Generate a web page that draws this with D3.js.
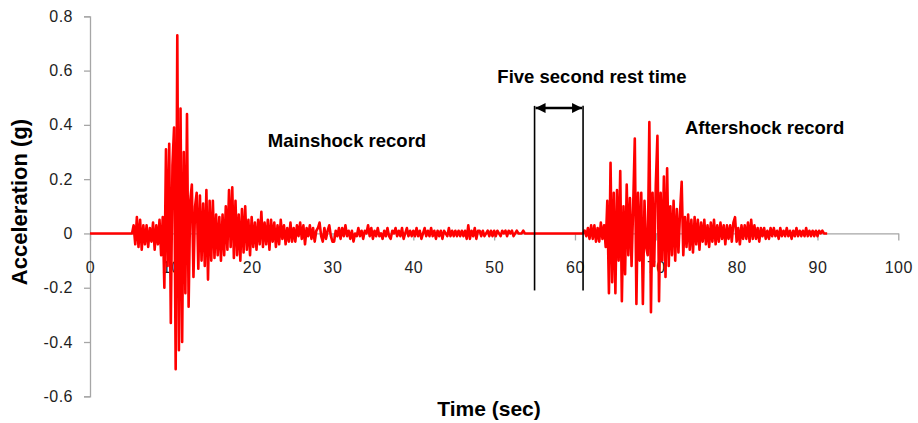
<!DOCTYPE html>
<html>
<head>
<meta charset="utf-8">
<script src="https://cdn.jsdelivr.net/npm/d3@7"></script>
<style>
  html, body { margin: 0; padding: 0; background: #fff; }
  svg { display: block; }
</style>
</head>
<body>
<svg id="chart" width="918" height="423"></svg>
<script>
// ---------------- DATA ----------------
const xTicks = [0, 10, 20, 30, 40, 50, 60, 70, 80, 90, 100];
const yTicks = [-0.6, -0.4, -0.2, 0, 0.2, 0.4, 0.6, 0.8];
const yTickLabels = ["-0.6", "-0.4", "-0.2", "0", "0.2", "0.4", "0.6", "0.8"];

const sampleStep = 0.2;           // s
const mainshockStart = 5.2;       // s
const mainshock = [
  0, .03, -.04, .06, -.05,
  .05, -.06, .03, -.04, .03,
  -.05, .02, -.03, .04, -.06,
  .03, -.04, .05, -.08, .06,
  -.20, .31, -.12, .33, -.33,
  .25, .39, -.50, .73, -.43,
  .46, -.40, .30, -.22, .44,
  -.27, .12, .18, -.16, .10,
  .15, -.13, .14, -.10, .11,
  -.12, .16, -.17, .12, -.10,
  .12, -.09, .07, -.08, .06,
  -.10, .07, -.08, .10, -.06,
  .16, -.05, .17, -.09, .12,
  -.08, .07, -.10, .09, -.07,
  .10, -.06, .05, -.08, .06,
  -.05, .04, -.06, .05, -.04,
  .08, -.05, .04, -.04, .05,
  -.06, .05, -.03, .04, -.05,
  .03, -.04, .05, -.02, .03,
  -.04, .02, -.03, .04, -.03,
  .02, -.03, .03, -.01, .04,
  -.02, .03, -.04, .02, -.01,
  .03, -.02, .02, -.03, .01,
  .02, .04, -.01, -.03, .02,
  -.02, .01, .03, -.01, -.03,
  -.03, .01, -.01, .02, -.02,
  .02, -.01, .03, -.01, .01,
  -.02, .01, -.03, .00, -.01,
  .02, -.01, .01, -.02, .01,
  .00, .03, -.01, .02, -.02,
  .01, -.01, .02, -.01, .00,
  -.02, .01, -.01, .02, -.01,
  -.02, .01, .00, .02, -.01,
  .01, -.01, .02, -.02, .00,
  .02, -.01, .01, -.01, .01,
  -.01, .02, -.01, .01, -.02,
  .00, .02, -.01, .01, -.01,
  .02, -.01, .01, -.02, .01,
  -.01, .01, -.02, .01, .00,
  -.01, .02, -.01, .01, -.01,
  .01, -.01, .01, -.01, .01,
  -.01, .01, -.02, .03, -.02,
  .01, -.01, .02, -.02, .01,
  .01, -.01, .01, -.01, .00,
  .01, -.01, .01, -.01, .01,
  -.01, .01, .00, -.01, .01,
  .00, .01, -.01, .01, .00,
  .01, -.01, .00, .01, .00,
  .00, .00, .01, .00, .00,
  .00, .00, .00, .00, .00
];

const aftershockStart = 61.0;     // s
const aftershock = [
  0, .01, -.01, .02, -.02,
  .03, -.02, .03, -.03, .02,
  -.03, .04, -.02, .03, -.05,
  .12, -.22, .26, -.18, .15,
  -.22, .16, -.10, .23, -.25,
  .10, -.15, .18, -.08, .13,
  -.12, .10, .35, -.26, .15,
  -.10, .15, -.26, .12, -.05,
  -.08, .41, -.29, .15, -.12,
  .18, .36, -.25, .15, -.10,
  .21, -.16, .24, -.12, .10,
  -.08, .12, -.10, .09, -.07,
  .08, .19, -.08, .06, -.05,
  .07, -.06, .05, -.07, .06,
  -.04, .05, -.06, .04, -.03,
  .05, -.04, .03, -.05, .04,
  -.03, .05, -.04, .03, -.03,
  .04, -.02, .03, -.04, .03,
  -.02, .03, -.03, .04, .06,
  -.03, .02, -.04, .03, -.02,
  .03, -.02, .04, -.03, .05,
  -.02, .03, -.02, .02, -.03,
  .02, -.01, .02, -.02, .01,
  -.02, .02, -.01, .02, -.01,
  .01, -.02, .02, -.01, .01,
  -.01, .02, -.01, .01, -.02,
  .01, -.01, .02, -.01, .01,
  -.01, .01, -.01, .02, -.01,
  .01, -.01, .01, -.01, .01,
  -.01, .01, .00, .01, .00,
  .00, .00
];

// rest-time bracket (data units)
const restBracket = { start: 55, end: 61, top: 0.47, bottom: -0.21, arrowLevel: 0.462 };
const annotations = [
  { text: "Five second rest time", t: 62.1, a: 0.554, anchor: "middle" },
  { text: "Mainshock record", t: 22.0, a: 0.320, anchor: "start" },
  { text: "Aftershock record", t: 73.6, a: 0.368, anchor: "start" }
];
const xTitle = "Time (sec)";
const yTitle = "Acceleration (g)";

// ---------------- CHART ----------------
const svg = d3.select("#chart");
const x = d3.scaleLinear().domain([0, 100]).range([90, 898.3]);
const y = d3.scaleLinear().domain([-0.6, 0.8]).range([396.3, 16.3]);

const series = [{ t: 0, a: 0 }]
  .concat(mainshock.map((a, i) => ({ t: mainshockStart + i * sampleStep, a })))
  .concat(aftershock.map((a, i) => ({ t: aftershockStart + i * sampleStep, a })));

const FONT = "'Liberation Sans', Arial, sans-serif";
const axisColor = "#a6a6a6";

// Y axis
const yAxis = svg.append("g").attr("transform", `translate(${x(0)},0)`)
  .call(d3.axisLeft(y).tickValues(yTicks).tickSize(6).tickPadding(11)
    .tickFormat((d, i) => yTickLabels[i]));
yAxis.select(".domain").attr("stroke", axisColor).attr("stroke-width", 1.3);
yAxis.selectAll(".tick line").attr("stroke", axisColor).attr("stroke-width", 1.3);
yAxis.selectAll(".tick text").attr("font-family", FONT).attr("font-size", 16)
  .attr("letter-spacing", 0.5).attr("fill", "#1e1e1e");

// X axis at y = 0
const xAxis = svg.append("g").attr("transform", `translate(0,${y(0)})`)
  .call(d3.axisBottom(x).tickValues(xTicks).tickSize(7).tickSizeOuter(0).tickPadding(21));
xAxis.select(".domain").attr("stroke", axisColor).attr("stroke-width", 1.3);
xAxis.selectAll(".tick line").attr("stroke", axisColor).attr("stroke-width", 1.3);
xAxis.selectAll(".tick text").attr("font-family", FONT).attr("font-size", 16)
  .attr("letter-spacing", 0.5).attr("fill", "#1e1e1e");

// Signal
svg.append("path").datum(series)
  .attr("fill", "none").attr("stroke", "#ff0000").attr("stroke-width", 2.6)
  .attr("stroke-linejoin", "round")
  .attr("d", d3.line().x(d => x(d.t)).y(d => y(d.a)));

// Bracket
[restBracket.start, restBracket.end].forEach(t => {
  svg.append("line")
    .attr("x1", x(t)).attr("x2", x(t))
    .attr("y1", y(restBracket.top)).attr("y2", y(restBracket.bottom))
    .attr("stroke", "#000").attr("stroke-width", 1.6);
});
const defs = svg.append("defs");
defs.append("marker").attr("id", "ah").attr("viewBox", "0 0 10 10")
  .attr("refX", 10).attr("refY", 5).attr("markerWidth", 12).attr("markerHeight", 10)
  .attr("markerUnits", "userSpaceOnUse").attr("orient", "auto-start-reverse")
  .append("path").attr("d", "M0,0 L10,5 L0,10 Z").attr("fill", "#000");
svg.append("line")
  .attr("x1", x(restBracket.start) + 1).attr("x2", x(restBracket.end) - 1)
  .attr("y1", y(restBracket.arrowLevel)).attr("y2", y(restBracket.arrowLevel))
  .attr("stroke", "#000").attr("stroke-width", 2.5)
  .attr("marker-start", "url(#ah)").attr("marker-end", "url(#ah)");

// Annotations
annotations.forEach(a => {
  svg.append("text").attr("x", x(a.t)).attr("y", y(a.a))
    .attr("text-anchor", a.anchor).attr("font-family", FONT)
    .attr("font-weight", "bold").attr("font-size", 18.5).attr("fill", "#000")
    .text(a.text);
});

// Axis titles
svg.append("text").attr("x", 489).attr("y", 416).attr("text-anchor", "middle")
  .attr("font-family", FONT).attr("font-weight", "bold").attr("font-size", 21)
  .text(xTitle);
svg.append("text").attr("transform", "translate(27,202) rotate(-90)")
  .attr("text-anchor", "middle").attr("font-family", FONT)
  .attr("font-weight", "bold").attr("font-size", 22).text(yTitle);
</script>
</body>
</html>
